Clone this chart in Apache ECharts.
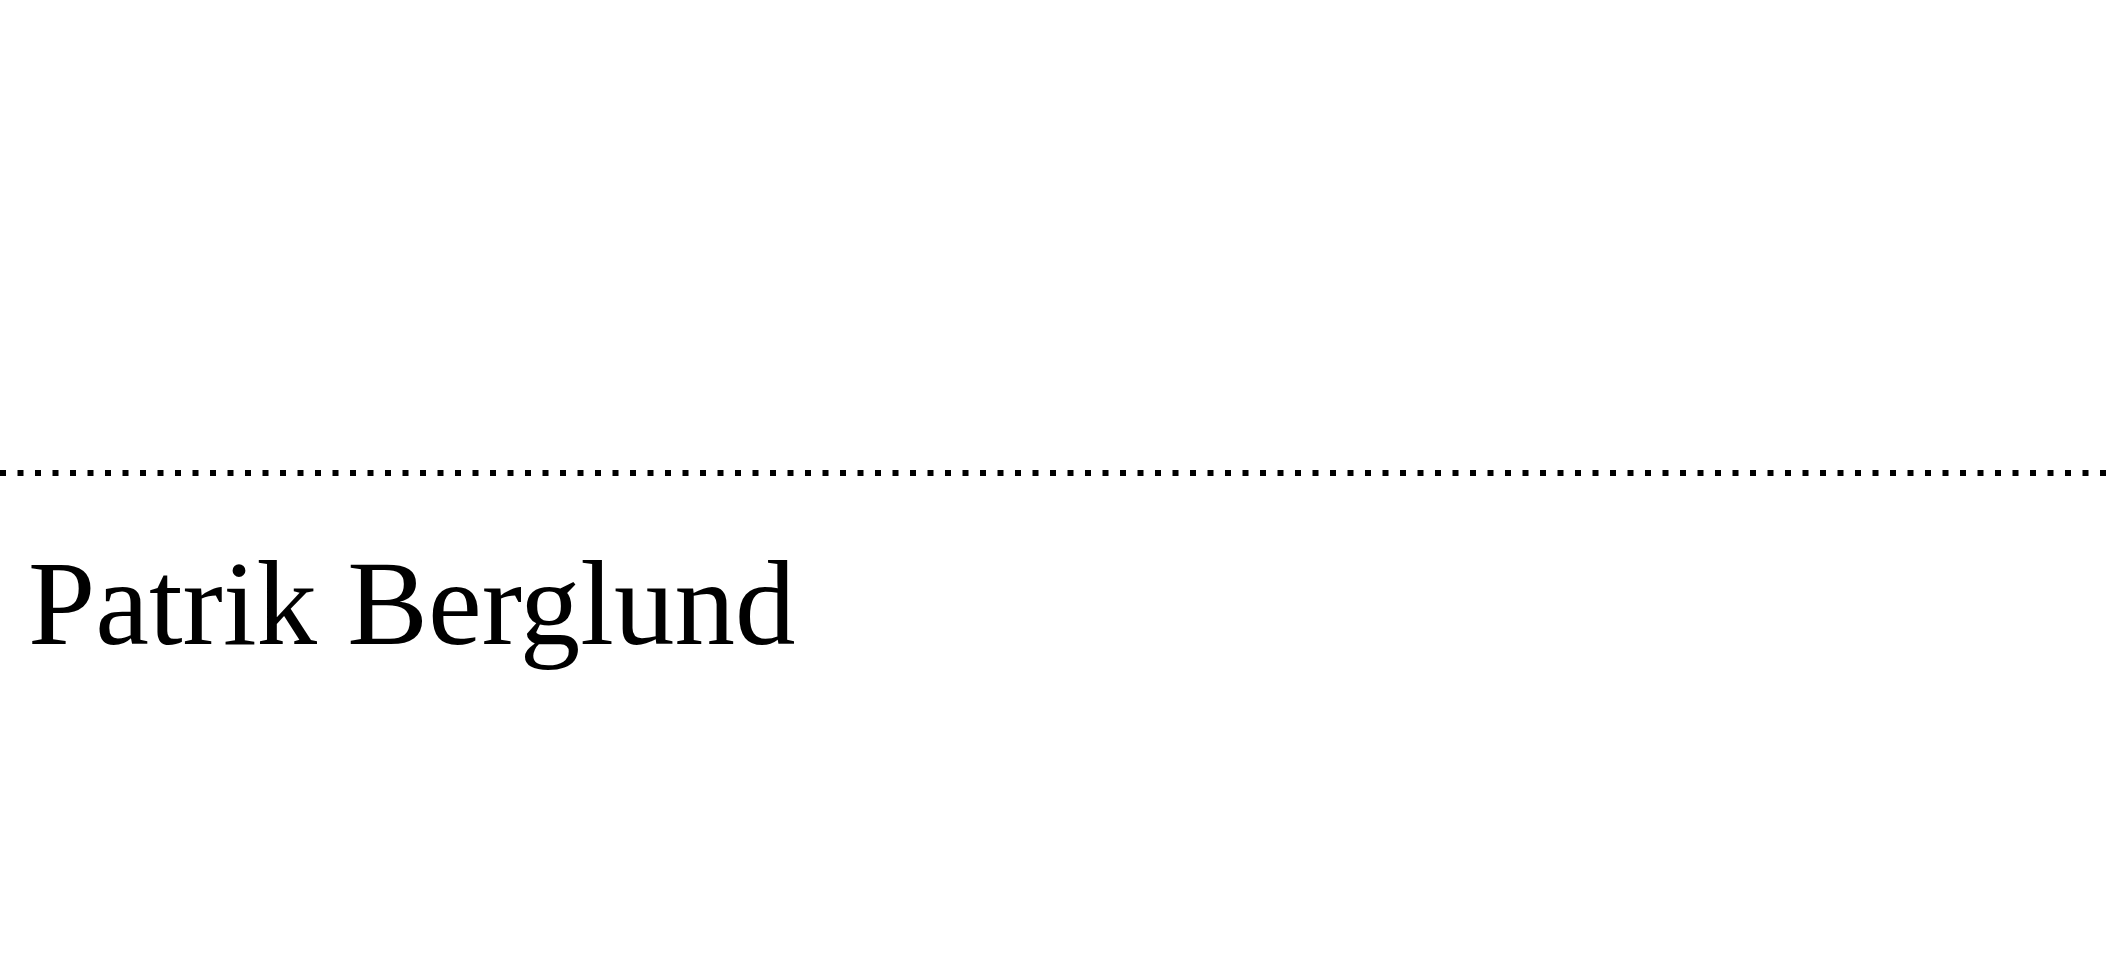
<!DOCTYPE html>
<html>
<head>
	<meta charset="utf-8">
	<title>Signature line</title>
	<script src="https://cdn.jsdelivr.net/npm/echarts@6/dist/echarts.min.js"></script>
	<style type="text/css">
		html, body { margin: 0; padding: 0; background: #fff; }
		#box { width: 2116px; height: 964px; }
	</style>
</head>
<body>
	<div id="box"></div>
<script type="text/javascript">
	// dotted signature line: start and end point (page pixels)
	var lineX = [0, 2116];
	var lineY = [473, 473];
	// printed name under the line
	var nameText = ['Patrik Berglund'];
	var nameX = [28];
	var nameY = [612];

	var chart = echarts.init(document.getElementById('box'));

	var lineData = [];
	for (var i = 0; i < lineX.length; i++) {
		lineData.push([lineX[i], lineY[i]]);
	}
	var nameData = [];
	for (var j = 0; j < nameText.length; j++) {
		nameData.push({ value: [nameX[j], nameY[j]], name: nameText[j] });
	}

	var option = {
		backgroundColor: '#ffffff',
		animation: false,
		grid: { left: 0, right: 0, top: 0, bottom: 0 },
		xAxis: { type: 'value', min: 0, max: 2116, show: false },
		yAxis: { type: 'value', min: 0, max: 964, inverse: true, show: false },
		series: [{
			name: 'line',
			type: 'line',
			symbol: 'none',
			lineStyle: { color: '#000', width: 6, type: [6, 11.5], cap: 'butt' },
			data: lineData
		}, {
			name: 'name',
			type: 'scatter',
			symbolSize: 0,
			itemStyle: { opacity: 1 },  // scatter defaults to 0.8, which greys the label
			label: {
				show: true,
				position: [0, 0],
				align: 'left',
				verticalAlign: 'middle',
				formatter: '{b}',
				color: '#000',
				fontFamily: 'Liberation Serif',
				fontSize: 121
			},
			data: nameData
		}]
	};
	chart.setOption(option);
</script>
</body>
</html>
